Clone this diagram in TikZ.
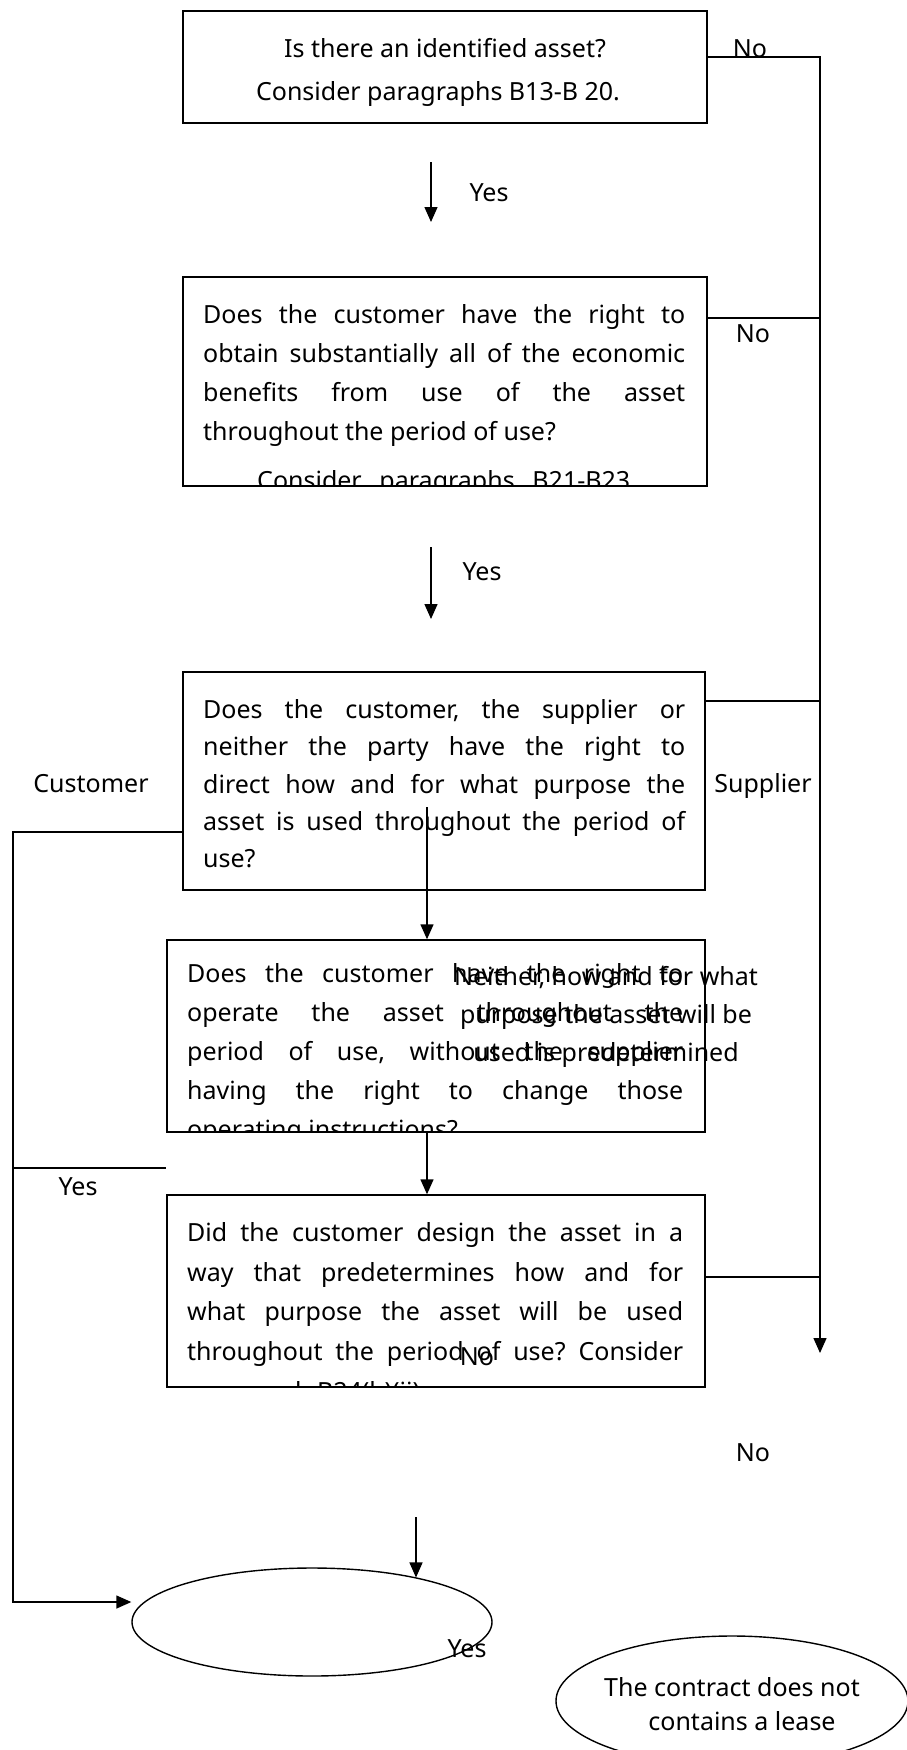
\documentclass[tikz,border=0pt]{standalone}
\usepackage{fontspec}
\setmainfont{Noto Sans}
\usetikzlibrary{shapes.geometric,arrows.meta}
\newcommand\jline[2]{\makebox[#1pt][s]{#2}}
\frenchspacing
\begin{document}
\begin{tikzpicture}[x=1pt,y=-1pt,
  every node/.style={inner sep=0pt},
  box/.style={draw, line width=1.4pt, rectangle},
  oval/.style={draw, line width=1.4pt, ellipse},
  conn/.style={line width=1.4pt},
  arr/.style={line width=1.4pt, -{Triangle[length=15pt,width=13pt]}},
  txt/.style={anchor=base west, font=\fontsize{25}{30}\selectfont},
  ctxt/.style={anchor=base, font=\fontsize{25}{30}\selectfont}]
\useasboundingbox (0,0) rectangle (907,1750);
% boxes
\node[box, minimum width=524pt, minimum height=112pt] (b1) at (445,67) {};
\node[box, minimum width=524pt, minimum height=209pt] (b2) at (445,381.5) {};
\node[box, minimum width=522pt, minimum height=218pt] (b3) at (444,781) {};
\node[box, minimum width=538pt, minimum height=192pt] (b4) at (436,1036) {};
\node[box, minimum width=538pt, minimum height=192pt] (b5) at (436,1291) {};
\node[oval, minimum width=360pt, minimum height=108pt] (e1) at (312,1622) {};
\node[oval, minimum width=352pt, minimum height=130pt] (e2) at (732,1701) {};
% box 1 text
\node[ctxt] (t11) at (445,58) {Is there an identified asset?};
\node[ctxt] (t12) at (438,101) {Consider paragraphs B13-B 20.};
% box 2 text
\begin{scope}
\clip (b2.south west) rectangle (b2.north east);
\node[txt] (t21) at (203,323) {\jline{482}{Does the customer have the right to}};
\node[txt] (t22) at (203,362) {\jline{482}{obtain substantially all of the economic}};
\node[txt] (t23) at (203,401) {\jline{482}{benefits from use of the asset}};
\node[txt] (t24) at (203,440) {throughout the period of use?};
\node[txt] (t25) at (257,489) {\jline{373}{Consider paragraphs B21-B23}};
\end{scope}
% box 3 text
\node[txt] (t31) at (203,718) {\jline{482}{Does the customer, the supplier or}};
\node[txt] (t32) at (203,755) {\jline{482}{neither the party have the right to}};
\node[txt] (t33) at (203,793) {\jline{482}{direct how and for what purpose the}};
\node[txt] (t34) at (203,830) {\jline{482}{asset is used throughout the period of}};
\node[txt] (t35) at (203,867) {use?};
% box 4 text
\begin{scope}
\clip (b4.south west) rectangle (b4.north east);
\node[txt] (t41) at (187,982) {\jline{496}{Does the customer have the right to}};
\node[txt] (t42) at (187,1021) {\jline{496}{operate the asset throughout the}};
\node[txt] (t43) at (187,1060) {\jline{496}{period of use, without the supplier}};
\node[txt] (t44) at (187,1099) {\jline{496}{having the right to change those}};
\node[txt] (t45) at (187,1138) {operating instructions?};
\end{scope}
\node[ctxt] (n1) at (606,985) {Neither, how and for what};
\node[ctxt] (n2) at (606,1023) {purpose the asset will be};
\node[ctxt] (n3) at (606,1061) {used is predetermined};
% box 5 text
\begin{scope}
\clip (b5.south west) rectangle (b5.north east);
\node[txt] (t51) at (187,1241) {\jline{496}{Did the customer design the asset in a}};
\node[txt] (t52) at (187,1281) {\jline{496}{way that predetermines how and for}};
\node[txt] (t53) at (187,1320) {\jline{496}{what purpose the asset will be used}};
\node[txt] (t54) at (187,1360) {\jline{496}{throughout the period of use? Consider}};
\node[txt] (t55) at (187,1400) {paragraph B24(b)(ii)};
\end{scope}
% ellipse 2 text
\node[ctxt] (c1) at (732,1696) {The contract does not};
\node[ctxt] (c2) at (742,1730) {contains a lease};
% labels
\node[ctxt] (no1) at (750,58) {No};
\node[ctxt] (no2) at (753,342) {No};
\node[ctxt] (yes1) at (489,201) {Yes};
\node[ctxt] (yes2) at (482,580) {Yes};
\node[ctxt] (cust) at (91,792) {Customer};
\node[ctxt] (supp) at (763,792) {Supplier};
\node[ctxt] (yes3) at (78,1195) {Yes};
\node[ctxt] (no3) at (477,1365) {No};
\node[ctxt] (no4) at (753,1461) {No};
\node[ctxt] (yes4) at (467,1657) {Yes};
% right trunk
\coordinate (r1) at (820,57);
\coordinate (rend) at (820,1353);
\coordinate (r2) at (820,318);
\coordinate (r3) at (820,701);
\coordinate (r5) at (820,1277);
\draw[arr] (b1.east |- r1) -- (r1) -- (rend);
\draw[conn] (b2.east |- r2) -- (r2);
\draw[conn] (b3.east |- r3) -- (r3);
\draw[conn] (b5.east |- r5) -- (r5);
% down arrows
\coordinate (a1s) at (431,162);
\coordinate (a1e) at (431,222);
\draw[arr] (a1s) -- (a1e);
\coordinate (a2s) at (431,547);
\coordinate (a2e) at (431,619);
\draw[arr] (a2s) -- (a2e);
\coordinate (a3s) at (427,807);
\draw[arr] (a3s) -- (a3s |- b4.north);
\draw[arr] (b4.south -| a3s) -- (b5.north -| a3s);
% left trunk
\coordinate (l1) at (13,832);
\coordinate (l2) at (13,1168);
\coordinate (l3) at (13,1602);
\draw[arr] (b3.west |- l1) -- (l1) -- (l3) -- (e1.west |- l3);
\draw[conn] (l2) -- (b4.west |- l2);
\coordinate (a5s) at (416,1517);
\draw[arr] (a5s) -- (a5s |- e1.23);
\end{tikzpicture}
\end{document}
